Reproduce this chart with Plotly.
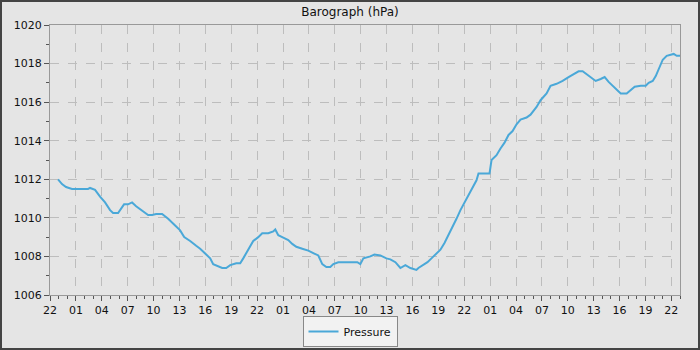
import pandas as pd
import plotly.graph_objects as go

start_time = "2024-03-10 22:00"
end_time = "2024-03-13 23:00"

hours_since_start = [
    0.93, 1.39, 1.86, 2.55, 3.48, 4.41, 4.64, 5.22, 5.80, 6.38, 6.96, 7.31, 7.89, 8.24, 8.58,
    9.05, 9.51, 9.98, 10.44, 11.02, 11.37, 11.83, 12.30, 12.99, 13.69, 14.50, 15.08, 15.55,
    16.24, 16.94, 17.40, 18.10, 18.56, 18.91, 19.49, 19.95, 20.42, 20.88, 21.58, 22.04,
    22.39, 22.74, 23.20, 23.55, 24.13, 24.59, 25.29, 25.87, 26.10, 26.45, 26.91, 27.61,
    28.07, 28.54, 29.23, 29.93, 30.63, 31.09, 31.55, 32.02, 32.48, 32.83, 33.41, 34.11,
    35.61, 35.96, 36.31, 37.12, 37.59, 38.28, 38.98, 39.44, 40.02, 40.60, 41.18, 41.76,
    42.46, 42.69, 43.16, 43.74, 44.32, 44.78, 45.24, 45.71, 46.17, 46.64, 47.10, 47.56,
    48.03, 48.49, 48.96, 49.42, 49.65, 50.35, 50.93, 51.16, 51.74, 52.20, 52.67, 53.13,
    53.60, 54.06, 54.52, 55.22, 55.68, 56.38, 56.84, 57.54, 58.00, 58.70, 59.40, 60.09,
    60.79, 61.25, 61.72, 62.18, 62.65, 63.23, 63.81, 64.27, 64.73, 65.20, 65.66, 66.13,
    66.82, 67.29, 67.75, 68.45, 69.03, 69.37, 69.84, 70.19, 70.53, 71.00, 71.46, 71.93,
    72.27, 72.62, 73.0,
]

pressure_hpa = [
    1012.0, 1011.75, 1011.6, 1011.5, 1011.5, 1011.5, 1011.55, 1011.45, 1011.1, 1010.8,
    1010.4, 1010.25, 1010.25, 1010.5, 1010.7, 1010.7, 1010.8, 1010.6, 1010.45, 1010.3,
    1010.15, 1010.15, 1010.2, 1010.2, 1009.95, 1009.6, 1009.35, 1009.0, 1008.8, 1008.55,
    1008.4, 1008.1, 1007.9, 1007.6, 1007.5, 1007.4, 1007.4, 1007.55, 1007.65, 1007.65,
    1007.9, 1008.15, 1008.5, 1008.8, 1009.0, 1009.2, 1009.2, 1009.3, 1009.4, 1009.1,
    1009.0, 1008.85, 1008.65, 1008.5, 1008.4, 1008.3, 1008.15, 1008.05, 1007.6, 1007.45,
    1007.45, 1007.6, 1007.7, 1007.7, 1007.7, 1007.6, 1007.9, 1008.0, 1008.1, 1008.05,
    1007.9, 1007.85, 1007.7, 1007.4, 1007.55, 1007.4, 1007.3, 1007.4, 1007.55, 1007.7,
    1007.95, 1008.15, 1008.35, 1008.7, 1009.1, 1009.5, 1009.95, 1010.4, 1010.8, 1011.15,
    1011.55, 1011.95, 1012.3, 1012.3, 1012.3, 1013.0, 1013.25, 1013.6, 1013.9, 1014.3,
    1014.5, 1014.85, 1015.1, 1015.2, 1015.35, 1015.75, 1016.1, 1016.45, 1016.85, 1016.95,
    1017.1, 1017.3, 1017.5, 1017.6, 1017.6, 1017.45, 1017.3, 1017.1, 1017.2, 1017.3,
    1017.05, 1016.85, 1016.65, 1016.45, 1016.45, 1016.65, 1016.8, 1016.85, 1016.85, 1017.0,
    1017.1, 1017.35, 1017.75, 1018.2, 1018.4, 1018.45, 1018.5, 1018.4, 1018.4,
]

times = pd.Timestamp(start_time) + pd.to_timedelta(hours_since_start, unit="h")

fig = go.Figure()
fig.add_trace(go.Scatter(
    x=times, y=pressure_hpa, mode="lines", name="Pressure",
    line=dict(color="#4aa8d8", width=2),
))

W, H = 700, 350
ml, mr, mt, mb = 50, 20, 25, 55
pw, ph = W - ml - mr, H - mt - mb

fig.update_layout(
    width=W, height=H,
    margin=dict(l=ml, r=mr, t=mt, b=mb),
    paper_bgcolor="#e5e5e5",
    plot_bgcolor="#e5e5e5",
    font=dict(family="DejaVu Sans", size=11, color="#111111"),
    title=dict(text="Barograph (hPa)", x=0.5, xanchor="center", y=1 - 12 / H,
               yanchor="middle", font=dict(size=12, color="#111111")),
    showlegend=True,
    legend=dict(orientation="h", xref="container", yref="container",
                x=0.5, xanchor="center", y=3 / H, yanchor="bottom",
                bgcolor="#f2f2f2", bordercolor="#888888", borderwidth=1,
                font=dict(size=11), itemwidth=30),
    xaxis=dict(
        type="date", range=[start_time, end_time], automargin=False,
        tick0=start_time, dtick=3 * 3600000, tickformat="%H",
        showgrid=True, gridcolor="#bdbdbd", griddash="dash", gridwidth=1,
        ticks="outside", ticklen=5, tickcolor="#555555",
        showline=True, linecolor="#999999", linewidth=1, mirror=True,
        minor=dict(dtick=3600000, tick0=start_time, ticks="outside", ticklen=3,
                   tickcolor="#555555", showgrid=False),
        zeroline=False,
    ),
    yaxis=dict(
        range=[1006, 1020], dtick=2, tick0=1006, automargin=False,
        showgrid=True, gridcolor="#bdbdbd", griddash="dash", gridwidth=1,
        ticks="outside", ticklen=5, tickcolor="#555555",
        showline=True, linecolor="#999999", linewidth=1, mirror=True,
        minor=dict(dtick=1, ticks="outside", ticklen=3, tickcolor="#555555", showgrid=False),
        zeroline=False,
    ),
    shapes=[dict(
        type="rect", xref="paper", yref="paper",
        x0=-(ml - 1) / pw, x1=1 + (mr - 1) / pw,
        y0=-(mb - 1) / ph, y1=1 + (mt - 1) / ph,
        line=dict(color="#444444", width=2), fillcolor="rgba(0,0,0,0)", layer="above",
    )],
)

fig.write_html("out.html", config={"displayModeBar": False},
               post_script="document.body.style.margin='0';document.body.style.overflow='hidden';")
